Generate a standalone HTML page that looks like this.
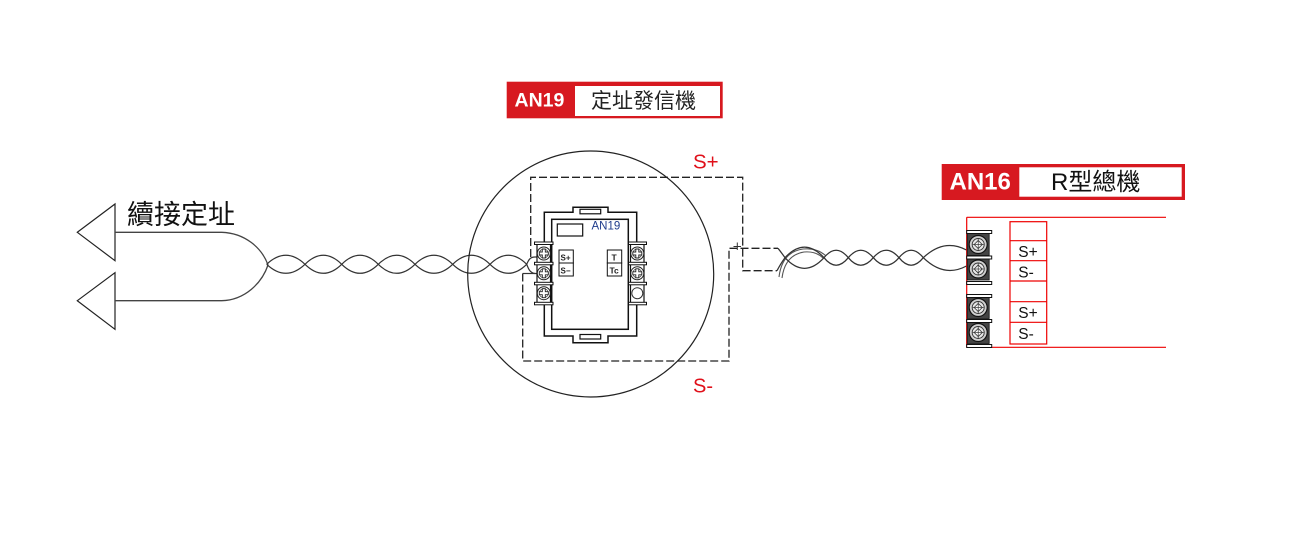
<!DOCTYPE html>
<html><head><meta charset="utf-8"><style>
html,body{margin:0;padding:0;background:#fff;}
svg{display:block;}
text{font-family:"Liberation Sans","Noto Sans CJK TC",sans-serif;}
</style></head><body>
<svg width="1309" height="544" viewBox="0 0 1309 544" xmlns="http://www.w3.org/2000/svg">
<defs>
<g id="dscrew">
  <circle cx="0" cy="0" r="6.5" fill="#fff" stroke="#222" stroke-width="1"/>
  <circle cx="0" cy="0" r="4.5" fill="none" stroke="#444" stroke-width="0.8"/>
  <path d="M-4.5,-1.5 H-1.5 V-4.5 H1.5 V-1.5 H4.5 V1.5 H1.5 V4.5 H-1.5 V1.5 H-4.5 Z" fill="#fff" stroke="#222" stroke-width="0.9"/>
</g>
<g id="pscrew">
  <rect x="-11" y="-11" width="22" height="22" fill="#444" stroke="#111" stroke-width="0.8"/>
  <circle cx="0" cy="0" r="9" fill="#cfcfcf" stroke="#111" stroke-width="1.2"/>
  <circle cx="0" cy="0" r="6" fill="#e8e8e8" stroke="#333" stroke-width="0.9"/>
  <path d="M-4,0 L0,-4 L4,0 L0,4 Z" fill="#fff" stroke="#333" stroke-width="0.8"/>
  <line x1="-5.5" y1="0" x2="5.5" y2="0" stroke="#333" stroke-width="0.7"/>
  <line x1="0" y1="-5.5" x2="0" y2="5.5" stroke="#333" stroke-width="0.7"/>
</g>
</defs>

<!-- Left arrows / fork -->
<polygon points="115,204 115,260.7 77.3,232.3" fill="#fff" stroke="#222" stroke-width="1.2"/>
<polygon points="115,272.7 115,329.3 77.3,300.7" fill="#fff" stroke="#222" stroke-width="1.2"/>
<path d="M115,232.3 L221.7,232.3 C245,233 262,248 268,265" fill="none" stroke="#444" stroke-width="1.3"/>
<path d="M115,300.7 L221.7,300.7 C245,300 262,283 268,265" fill="none" stroke="#444" stroke-width="1.3"/>
<text x="127" y="224" font-size="27" fill="#111">續接定址</text>

<!-- Left twisted pair -->
<g fill="none" stroke="#333" stroke-width="1.2">
<path d="M266.7,264.3 Q285.85,246.3 305,264.3 Q323.35,282.3 341.7,264.3 Q360,246.3 378.3,264.3 Q396.65,282.3 415,264.3 Q433.85,246.3 452.7,264.3 Q471.35,282.3 490,264.3 Q508.35,246.3 526.7,264.3 C528.5,269 530,273 535,273.5 L544,273.5"/>
<path d="M266.7,264.3 Q285.85,282.3 305,264.3 Q323.35,246.3 341.7,264.3 Q360,282.3 378.3,264.3 Q396.65,246.3 415,264.3 Q433.85,282.3 452.7,264.3 Q471.35,246.3 490,264.3 Q508.35,282.3 526.7,264.3 C528.5,260 530,257 535,257 L544,257"/>
<line x1="522.7" y1="273.5" x2="535" y2="273.5"/>
</g>

<!-- Circle -->
<circle cx="590.7" cy="274" r="123" fill="none" stroke="#222" stroke-width="1.2"/>

<!-- Dashed wiring -->
<g fill="none" stroke="#222" stroke-width="1.3" stroke-dasharray="8 3">
<path d="M530.7,257 L530.7,177.3 L742.7,177.3 L742.7,270.7 L777,270.7"/>
<path d="M522.7,273.5 L522.7,361 L729,361 L729,248.3 L778,248.3"/>
</g>
<line x1="733.5" y1="246.5" x2="741" y2="246.5" stroke="#333" stroke-width="1"/>
<line x1="737.3" y1="242.5" x2="737.3" y2="250" stroke="#333" stroke-width="1"/>

<!-- Device frame -->
<path d="M544.3,212.3 L573,212.3 L573,207.3 L608,207.3 L608,212.3 L636.7,212.3 L636.7,336 L608,336 L608,342.7 L573,342.7 L573,336 L544.3,336 Z" fill="#fff" stroke="#111" stroke-width="1.5"/>
<rect x="580" y="209.3" width="20.7" height="4.5" fill="#fff" stroke="#111" stroke-width="1.2"/>
<rect x="580" y="334.5" width="20.7" height="4.5" fill="#fff" stroke="#111" stroke-width="1.2"/>
<rect x="551.7" y="219.3" width="76.6" height="110" fill="#fff" stroke="#111" stroke-width="1.5"/>
<rect x="557.3" y="224" width="25.4" height="12" fill="#fff" stroke="#111" stroke-width="1.2"/>
<text x="591.5" y="229.5" font-size="11.5" fill="#1f3c8c">AN19</text>

<!-- label boxes -->
<g stroke="#111" stroke-width="1" fill="#fff">
<rect x="559" y="250" width="14.3" height="13"/>
<rect x="559" y="263" width="14.3" height="13"/>
<rect x="607.3" y="250" width="14.4" height="13"/>
<rect x="607.3" y="263" width="14.4" height="13"/>
</g>
<text x="560.5" y="260.5" font-size="8" font-weight="bold" fill="#222">S+</text>
<text x="560.5" y="273.5" font-size="8" font-weight="bold" fill="#222">S−</text>
<text x="611.5" y="260.5" font-size="8.5" font-weight="bold" fill="#222">T</text>
<text x="609.5" y="273.5" font-size="8.5" font-weight="bold" fill="#222">Tc</text>

<!-- Device left terminal block -->
<rect x="537" y="243" width="13.5" height="61" fill="#fff" stroke="#111" stroke-width="1.2"/>
<g fill="#fff" stroke="#111" stroke-width="1">
<rect x="534.5" y="242" width="18.5" height="2.5"/>
<rect x="534.5" y="262.3" width="18.5" height="2.5"/>
<rect x="534.5" y="282.3" width="18.5" height="2.5"/>
<rect x="534.5" y="302.3" width="18.5" height="2.5"/>
</g>
<use href="#dscrew" x="543.8" y="253.5"/>
<use href="#dscrew" x="543.8" y="273.3"/>
<use href="#dscrew" x="543.8" y="293.2"/>

<!-- Device right terminal block -->
<rect x="630.5" y="243" width="13.5" height="61" fill="#fff" stroke="#111" stroke-width="1.2"/>
<g fill="#fff" stroke="#111" stroke-width="1">
<rect x="628.5" y="242" width="18" height="2.5"/>
<rect x="628.5" y="262.3" width="18" height="2.5"/>
<rect x="628.5" y="282.3" width="18" height="2.5"/>
<rect x="628.5" y="302.3" width="18" height="2.5"/>
</g>
<use href="#dscrew" x="637.3" y="253.5"/>
<use href="#dscrew" x="637.3" y="273.3"/>
<circle cx="637.3" cy="293.2" r="5.5" fill="#fff" stroke="#333" stroke-width="1"/>

<!-- Shield double line -->
<g fill="none" stroke="#555" stroke-width="1.1">
<path d="M779,277 Q782,252 803,249 Q817,247.5 826,256"/>
<path d="M782,278 Q785,255 804,252 Q816,251 823,258"/>
</g>

<!-- Right twisted pair -->
<g fill="none" stroke="#333" stroke-width="1.25">
<path d="M778,248.3 Q781,252 785,257.7 Q804.5,279 824,257.7 Q836.15,242.7 848.3,257.7 Q860.8,272.7 873.3,257.7 Q886.15,242.7 899,257.7 Q911.15,272.7 923.3,257.7 Q944,238 966.5,250"/>
<path d="M777,270.7 Q781,263 785,257.7 Q804.5,236.5 824,257.7 Q836.15,272.7 848.3,257.7 Q860.8,242.7 873.3,257.7 Q886.15,272.7 899,257.7 Q911.15,242.7 923.3,257.7 Q944,278 966.5,266"/>
</g>

<!-- AN19 title -->
<rect x="506.7" y="81.7" width="216" height="36.6" fill="#d71920"/>
<rect x="575" y="86" width="145" height="30" fill="#fff"/>
<text x="514.5" y="106.7" font-size="19.5" font-weight="bold" fill="#fff">AN19</text>
<text x="591" y="108" font-size="21" fill="#222">定址發信機</text>

<text x="693" y="168.3" font-size="20.5" fill="#e0101a">S+</text>
<text x="693" y="392.7" font-size="20" fill="#e0101a">S-</text>

<!-- AN16 title -->
<rect x="941.7" y="164" width="243.3" height="36" fill="#d71920"/>
<rect x="1019.3" y="167.3" width="162.4" height="29.4" fill="#fff"/>
<text x="949.5" y="189.5" font-size="24" font-weight="bold" fill="#fff">AN16</text>
<text x="1051" y="190" font-size="24" fill="#111">R型總機</text>

<!-- Panel -->
<g stroke="#e00" stroke-width="1.2" fill="none">
<line x1="966.7" y1="217.3" x2="1166" y2="217.3"/>
<line x1="966.7" y1="347.3" x2="1166" y2="347.3"/>
<line x1="966.7" y1="217.3" x2="966.7" y2="347.3"/>
<rect x="1010" y="221.7" width="36.7" height="122.3"/>
<line x1="1010" y1="240.7" x2="1046.7" y2="240.7"/>
<line x1="1010" y1="260.7" x2="1046.7" y2="260.7"/>
<line x1="1010" y1="281" x2="1046.7" y2="281"/>
<line x1="1010" y1="301.7" x2="1046.7" y2="301.7"/>
<line x1="1010" y1="322.3" x2="1046.7" y2="322.3"/>
</g>
<g font-size="15.5" fill="#111">
<text x="1018.3" y="257">S+</text>
<text x="1018.3" y="277.5">S-</text>
<text x="1018.3" y="318">S+</text>
<text x="1018.3" y="339">S-</text>
</g>

<!-- Panel terminals -->
<use href="#pscrew" x="978.2" y="244.5"/>
<use href="#pscrew" x="978.2" y="269"/>
<use href="#pscrew" x="978.2" y="307.5"/>
<use href="#pscrew" x="978.2" y="332.5"/>
<g fill="#fff" stroke="#111" stroke-width="1">
<rect x="966.7" y="230.5" width="25" height="3"/>
<rect x="966.7" y="256" width="25" height="3"/>
<rect x="966.7" y="281.5" width="25" height="3"/>
<rect x="966.7" y="294.5" width="25" height="3"/>
<rect x="966.7" y="319.5" width="25" height="3"/>
<rect x="966.7" y="344.5" width="25" height="3"/>
</g>
</svg>
</body></html>
